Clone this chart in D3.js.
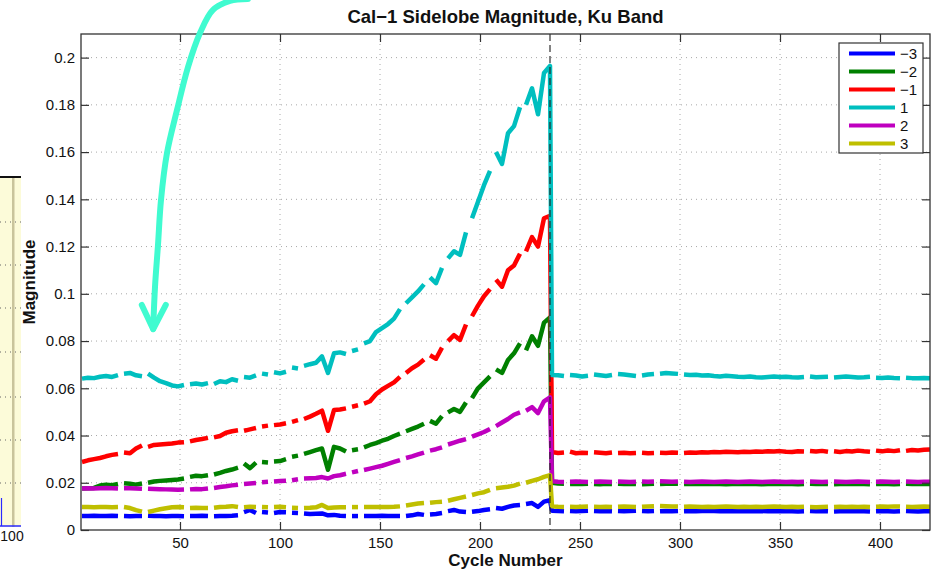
<!DOCTYPE html>
<html>
<head>
<meta charset="utf-8">
<script src="https://cdn.jsdelivr.net/npm/d3@7"></script>
<style>
  html, body { margin: 0; padding: 0; background: #fff; }
  svg { display: block; font-family: "Liberation Sans", Arial, Helvetica, sans-serif; }
</style>
</head>
<body>
<svg id="chart" width="937" height="570"></svg>
<script>
// ---- data -------------------------------------------------------------
// Sample cycles: every third cycle up to the Cal-1 reset at cycle 235, then every third cycle after it.
const cycles = d3.range(1, 236, 3).concat(d3.range(236, 426, 3));

// Cycles with no calibration record (the traces break there).
const gapCycles = [20, 33, 54, 65, 80, 89, 96, 104, 111, 135, 141, 162, 174, 182, 195, 207, 222,
                   244, 256, 267, 279, 289, 300, 363, 376, 396, 411];

const eventCycle = 235;

const seriesNames  = ["\u22123", "\u22122", "\u22121", "1", "2", "3"];
const seriesColors = ["#0000ff", "#008000", "#ff0000", "#00bfbf", "#bf00bf", "#bfbf00"];

const magM3 = [
  .0059,.0059,.0060,.0059,.0059,.0060,.0059,.0059,.0058,.0059,
  .0059,.0060,.0059,.0059,.0058,.0059,.0059,.0058,.0059,.0059,
  .0060,.0059,.0058,.0059,.0059,.0060,.0062,.0076,.0085,.0072,
  .0076,.0074,.0072,.0076,.0075,.0073,.0072,.0070,.0068,.0069,
  .0070,.0062,.0064,.0060,.0059,.0059,.0059,.0059,.0059,.0059,
  .0060,.0059,.0059,.0059,.0059,.0062,.0068,.0064,.0066,.0068,
  .0072,.0080,.0085,.0078,.0076,.0077,.0080,.0085,.0088,.0093,
  .0090,.0098,.0104,.0106,.0110,.0114,.0098,.0120,.0126,
  .0082,.0080,.0079,.0080,.0079,.0080,.0081,.0080,
  .0079,.0080,.0079,.0080,.0079,.0080,.0081,.0080,
  .0079,.0080,.0079,.0080,.0079,.0080,.0079,.0080,
  .0079,.0080,.0081,.0080,.0079,.0080,.0079,.0080,
  .0079,.0080,.0079,.0080,.0079,.0080,.0079,.0080,
  .0079,.0078,.0079,.0080,.0079,.0080,.0079,.0078,
  .0079,.0080,.0079,.0080,.0079,.0078,.0079,.0080,
  .0079,.0078,.0079,.0080,.0079,.0078,.0079,.0079
];

const magM2 = [
  .0176,.0177,.0178,.0188,.0192,.0190,.0195,.0198,.0196,.0192,
  .0197,.0200,.0205,.0208,.0210,.0212,.0214,.0218,.0225,.0230,
  .0228,.0232,.0235,.0242,.0250,.0256,.0264,.0282,.0262,.0285,
  .0288,.0286,.0290,.0292,.0300,.0310,.0315,.0322,.0330,.0338,
  .0345,.0255,.0352,.0345,.0332,.0338,.0342,.0350,.0360,.0368,
  .0378,.0386,.0398,.0408,.0418,.0428,.0438,.0450,.0462,.0450,
  .0482,.0498,.0512,.0500,.0540,.0558,.0600,.0625,.0650,.0680,
  .0665,.0720,.0748,.0790,.0760,.0820,.0780,.0878,.0900,
  .0200,.0197,.0196,.0195,.0196,.0195,.0196,.0195,
  .0194,.0196,.0195,.0196,.0195,.0196,.0195,.0194,
  .0195,.0196,.0195,.0196,.0197,.0196,.0195,.0196,
  .0195,.0196,.0195,.0196,.0195,.0194,.0195,.0196,
  .0195,.0196,.0195,.0194,.0195,.0196,.0195,.0196,
  .0195,.0194,.0195,.0196,.0195,.0196,.0195,.0194,
  .0195,.0196,.0195,.0196,.0195,.0194,.0195,.0196,
  .0195,.0194,.0195,.0196,.0195,.0196,.0195,.0195
];

const magM1 = [
  .0288,.0295,.0300,.0305,.0312,.0318,.0322,.0328,.0325,.0345,
  .0358,.0352,.0360,.0362,.0364,.0366,.0370,.0372,.0375,.0381,
  .0385,.0390,.0392,.0398,.0412,.0418,.0422,.0420,.0426,.0432,
  .0438,.0442,.0444,.0447,.0452,.0458,.0465,.0470,.0480,.0492,
  .0505,.0420,.0508,.0510,.0515,.0522,.0528,.0535,.0545,.0575,
  .0595,.0610,.0625,.0648,.0665,.0685,.0700,.0722,.0740,.0725,
  .0772,.0800,.0825,.0805,.0870,.0905,.0950,.0990,.1020,.1060,
  .1030,.1100,.1120,.1170,.1180,.1240,.1200,.1320,.1330,
  .0330,.0326,.0328,.0332,.0325,.0327,.0326,.0329,
  .0327,.0325,.0328,.0326,.0327,.0325,.0326,.0327,
  .0325,.0326,.0327,.0326,.0328,.0327,.0326,.0328,
  .0327,.0329,.0328,.0330,.0329,.0331,.0330,.0329,
  .0331,.0330,.0332,.0331,.0333,.0332,.0334,.0331,
  .0330,.0333,.0332,.0334,.0332,.0335,.0331,.0333,
  .0330,.0334,.0332,.0336,.0333,.0331,.0336,.0333,
  .0337,.0334,.0338,.0335,.0339,.0337,.0340,.0341
];

const magP1 = [
  .0641,.0645,.0643,.0649,.0652,.0648,.0656,.0662,.0665,.0655,
  .0651,.0662,.0645,.0630,.0622,.0612,.0608,.0614,.0617,.0620,
  .0616,.0622,.0618,.0630,.0626,.0638,.0632,.0648,.0645,.0655,
  .0662,.0658,.0668,.0663,.0670,.0688,.0684,.0695,.0702,.0708,
  .0735,.0665,.0748,.0752,.0745,.0758,.0765,.0790,.0800,.0838,
  .0855,.0872,.0895,.0935,.0960,.0985,.1010,.1040,.1070,.1045,
  .1110,.1150,.1180,.1165,.1260,.1320,.1390,.1460,.1520,.1600,
  .1550,.1680,.1710,.1790,.1800,.1870,.1760,.1935,.1965,
  .0656,.0655,.0652,.0656,.0654,.0650,.0653,.0658,
  .0655,.0652,.0656,.0660,.0658,.0655,.0652,.0654,
  .0658,.0660,.0662,.0665,.0663,.0661,.0658,.0656,
  .0657,.0654,.0655,.0652,.0650,.0653,.0651,.0649,
  .0648,.0650,.0647,.0646,.0648,.0650,.0648,.0649,
  .0647,.0646,.0648,.0650,.0647,.0648,.0649,.0646,
  .0648,.0650,.0648,.0646,.0647,.0649,.0645,.0644,
  .0646,.0644,.0643,.0645,.0643,.0642,.0644,.0643
];

const magP2 = [
  .0176,.0177,.0176,.0177,.0178,.0177,.0176,.0177,.0177,.0176,
  .0175,.0175,.0174,.0173,.0172,.0171,.0170,.0171,.0172,.0174,
  .0173,.0176,.0178,.0182,.0185,.0189,.0192,.0195,.0197,.0199,
  .0202,.0204,.0205,.0207,.0208,.0211,.0215,.0218,.0219,.0220,
  .0224,.0218,.0228,.0232,.0238,.0244,.0250,.0254,.0260,.0266,
  .0272,.0280,.0288,.0296,.0305,.0312,.0320,.0328,.0336,.0342,
  .0350,.0362,.0370,.0378,.0385,.0395,.0405,.0415,.0428,.0440,
  .0455,.0470,.0488,.0498,.0505,.0520,.0495,.0545,.0562,
  .0206,.0204,.0203,.0204,.0205,.0204,.0203,.0204,
  .0205,.0204,.0203,.0205,.0204,.0203,.0204,.0205,
  .0204,.0205,.0206,.0205,.0204,.0205,.0204,.0203,
  .0204,.0205,.0204,.0203,.0204,.0205,.0204,.0203,
  .0204,.0205,.0204,.0203,.0204,.0205,.0204,.0203,
  .0204,.0203,.0204,.0205,.0204,.0203,.0204,.0205,
  .0204,.0203,.0204,.0205,.0204,.0203,.0204,.0205,
  .0204,.0203,.0204,.0205,.0204,.0203,.0204,.0204
];

const magP3 = [
  .0097,.0097,.0096,.0097,.0097,.0096,.0097,.0097,.0093,.0084,
  .0078,.0076,.0082,.0088,.0092,.0096,.0097,.0096,.0093,.0094,
  .0093,.0093,.0094,.0097,.0098,.0101,.0097,.0096,.0098,.0097,
  .0097,.0096,.0097,.0098,.0096,.0094,.0093,.0093,.0094,.0096,
  .0106,.0093,.0095,.0096,.0096,.0097,.0097,.0097,.0097,.0097,
  .0097,.0097,.0098,.0100,.0104,.0108,.0112,.0114,.0115,.0118,
  .0120,.0124,.0130,.0136,.0142,.0148,.0155,.0160,.0170,.0177,
  .0180,.0183,.0188,.0196,.0200,.0208,.0215,.0225,.0232,
  .0100,.0098,.0097,.0098,.0097,.0098,.0099,.0098,
  .0097,.0098,.0097,.0098,.0099,.0098,.0097,.0098,
  .0100,.0101,.0102,.0101,.0100,.0099,.0098,.0099,
  .0098,.0097,.0098,.0097,.0098,.0099,.0098,.0097,
  .0098,.0097,.0098,.0097,.0098,.0099,.0098,.0097,
  .0098,.0097,.0098,.0097,.0096,.0097,.0098,.0097,
  .0098,.0097,.0098,.0097,.0098,.0097,.0098,.0099,
  .0098,.0100,.0099,.0098,.0097,.0098,.0099,.0098
];

const seriesValues = [magM3, magM2, magM1, magP1, magP2, magP3];

const xTicks = [50, 100, 150, 200, 250, 300, 350, 400];
const yTicks = [0, 0.02, 0.04, 0.06, 0.08, 0.1, 0.12, 0.14, 0.16, 0.18, 0.2];

// Call-out arrow, in (cycle, magnitude) coordinates, from its tail down to the tip.
const arrowPath = [[84, 0.2248], [75, 0.2240], [66.5, 0.2202], [60, 0.2104], [54, 0.1960],
                   [48.5, 0.1778], [43.5, 0.1596], [40.5, 0.1397], [39, 0.1207],
                   [37.5, 0.1029], [36.6, 0.0852]];
const arrowHead = [[30.9, 0.0953], [36.6, 0.0850], [42.9, 0.0953]];

// ---- layout -----------------------------------------------------------
const plot = { left: 81, right: 930, top: 34, bottom: 530 };
const svg = d3.select("#chart");

const x = d3.scaleLinear().domain([0.5, 425]).range([plot.left, plot.right]);
const y = d3.scaleLinear().domain([0, 0.21]).range([plot.bottom, plot.top]);

// ---- neighbouring panel fragment at the left edge ---------------------
const frag = svg.append("g");
frag.append("rect").attr("x", 0).attr("y", 177).attr("width", 21).attr("height", 350)
  .attr("fill", "#fcfbd9");
frag.append("rect").attr("x", 12).attr("y", 177).attr("width", 2.5).attr("height", 350)
  .attr("fill", "#c9c49c");
[222, 265, 308, 352, 397, 440, 483].forEach(gy => {
  frag.append("line").attr("x1", 0).attr("x2", 21).attr("y1", gy).attr("y2", gy)
    .attr("stroke", "#666").attr("stroke-width", 1).attr("stroke-dasharray", "1,4");
});
frag.append("line").attr("x1", 0).attr("x2", 21).attr("y1", 177).attr("y2", 177)
  .attr("stroke", "#111").attr("stroke-width", 2);
frag.append("line").attr("x1", 0).attr("x2", 21).attr("y1", 526).attr("y2", 526)
  .attr("stroke", "#2a2aff").attr("stroke-width", 1.5);
frag.append("line").attr("x1", 1.5).attr("x2", 1.5).attr("y1", 498).attr("y2", 526)
  .attr("stroke", "#2a2aff").attr("stroke-width", 1.2);
frag.append("text").attr("x", 12).attr("y", 541).attr("text-anchor", "middle")
  .attr("font-size", 14).attr("fill", "#111").text("100");

// ---- grid -------------------------------------------------------------
const grid = svg.append("g").attr("stroke", "#a8a8a8").attr("stroke-width", 1)
  .attr("stroke-dasharray", "1,4");
xTicks.forEach(t => grid.append("line").attr("x1", x(t)).attr("x2", x(t))
  .attr("y1", plot.top).attr("y2", plot.bottom));
yTicks.filter(t => t > 0).forEach(t => grid.append("line").attr("x1", plot.left).attr("x2", plot.right)
  .attr("y1", y(t)).attr("y2", y(t)));

// ---- series -----------------------------------------------------------
svg.append("clipPath").attr("id", "plotClip").append("rect")
  .attr("x", plot.left).attr("y", plot.top)
  .attr("width", plot.right - plot.left).attr("height", plot.bottom - plot.top);

function segments(values) {
  const segs = [];
  let cur = [];
  cycles.forEach((c, i) => {
    if (i > 0 && gapCycles.some(g => g > cycles[i - 1] && g < c)) { segs.push(cur); cur = []; }
    cur.push([c, values[i]]);
  });
  segs.push(cur);
  return segs.filter(s => s.length > 1);
}

const line = d3.line().x(d => x(d[0])).y(d => y(d[1]));
const linesG = svg.append("g").attr("clip-path", "url(#plotClip)");
seriesValues.forEach((vals, k) => {
  linesG.append("g").selectAll("path").data(segments(vals)).join("path")
    .attr("d", line).attr("fill", "none")
    .attr("stroke", seriesColors[k]).attr("stroke-width", 4.5)
    .attr("stroke-linejoin", "round").attr("stroke-linecap", "butt");
});

// reset marker
linesG.append("line").attr("x1", x(eventCycle)).attr("x2", x(eventCycle))
  .attr("y1", plot.top).attr("y2", plot.bottom)
  .attr("stroke", "#222").attr("stroke-opacity", 0.75).attr("stroke-width", 1.5)
  .attr("stroke-dasharray", "7,4");

// ---- axes -------------------------------------------------------------
const tickFont = 15;
const fmtY = d3.format("~g");

const axB = svg.append("g").attr("transform", `translate(0,${plot.bottom})`)
  .call(d3.axisBottom(x).tickValues(xTicks).tickSizeInner(-8).tickSizeOuter(0).tickPadding(7));
const axT = svg.append("g").attr("transform", `translate(0,${plot.top})`)
  .call(d3.axisTop(x).tickValues(xTicks).tickSizeInner(-8).tickSizeOuter(0).tickFormat(""));
const axL = svg.append("g").attr("transform", `translate(${plot.left},0)`)
  .call(d3.axisLeft(y).tickValues(yTicks).tickSizeInner(-8).tickSizeOuter(0).tickPadding(6).tickFormat(fmtY));
const axR = svg.append("g").attr("transform", `translate(${plot.right},0)`)
  .call(d3.axisRight(y).tickValues(yTicks).tickSizeInner(-8).tickSizeOuter(0).tickFormat(""));

[axB, axT, axL, axR].forEach(a => {
  a.select(".domain").remove();
  a.selectAll(".tick line").attr("stroke", "#333").attr("stroke-width", 1.2);
  a.selectAll(".tick text").attr("font-size", tickFont).attr("fill", "#111")
    .attr("font-family", "'Liberation Sans', Arial, sans-serif");
});

svg.append("rect").attr("x", plot.left).attr("y", plot.top)
  .attr("width", plot.right - plot.left).attr("height", plot.bottom - plot.top)
  .attr("fill", "none").attr("stroke", "#333").attr("stroke-width", 1.3);

// ---- titles -----------------------------------------------------------
const midX = (plot.left + plot.right) / 2;
svg.append("text").attr("x", midX).attr("y", 23).attr("text-anchor", "middle")
  .attr("font-size", 18.5).attr("font-weight", "bold").attr("fill", "#111")
  .text("Cal\u22121 Sidelobe Magnitude, Ku Band");
svg.append("text").attr("x", midX).attr("y", 566).attr("text-anchor", "middle")
  .attr("font-size", 17).attr("font-weight", "bold").attr("fill", "#111")
  .text("Cycle Number");
svg.append("text").attr("transform", `translate(35,${(plot.top + plot.bottom) / 2}) rotate(-90)`)
  .attr("text-anchor", "middle").attr("font-size", 17).attr("font-weight", "bold").attr("fill", "#111")
  .text("Magnitude");

// ---- legend -----------------------------------------------------------
const lg = svg.append("g").attr("transform", "translate(839,43)");
lg.append("rect").attr("width", 84).attr("height", 110)
  .attr("fill", "#fff").attr("stroke", "#333").attr("stroke-width", 1.2);
seriesNames.forEach((name, k) => {
  const ry = 10.5 + k * 18;
  lg.append("line").attr("x1", 10).attr("x2", 56).attr("y1", ry).attr("y2", ry)
    .attr("stroke", seriesColors[k]).attr("stroke-width", 4);
  lg.append("text").attr("x", 61).attr("y", ry + 5.5).attr("font-size", tickFont)
    .attr("fill", "#111").text(name);
});

// ---- call-out arrow ---------------------------------------------------
const arrowLine = d3.line().x(d => x(d[0])).y(d => y(d[1])).curve(d3.curveCatmullRom.alpha(0.5));
const arrowG = svg.append("g").attr("fill", "none").attr("stroke", "#40fbd0")
  .attr("stroke-width", 6).attr("stroke-linecap", "round").attr("stroke-linejoin", "round");
arrowG.append("path").attr("d", arrowLine(arrowPath));
arrowG.append("path").attr("d", d3.line().x(d => x(d[0])).y(d => y(d[1]))(arrowHead));
</script>
</body>
</html>
